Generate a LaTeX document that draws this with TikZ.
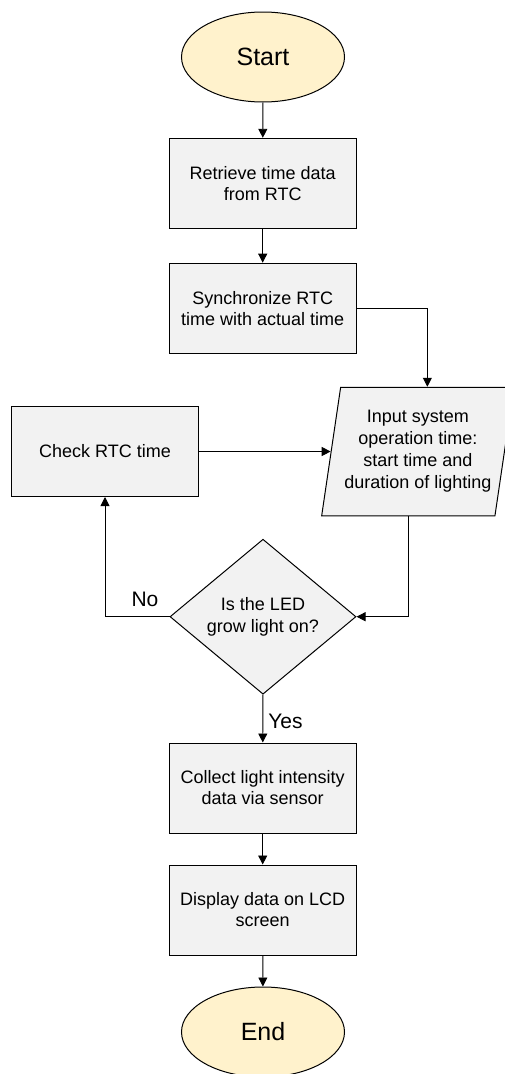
\documentclass[tikz,border=0pt]{standalone}
\usepackage{fontspec}
\setmainfont{Liberation Sans}
\usetikzlibrary{shapes.geometric,arrows.meta}
\definecolor{boxgray}{HTML}{F2F2F2}
\definecolor{termyellow}{HTML}{FFF2CC}

\begin{document}
\begin{tikzpicture}[x=1pt,y=-1pt,>={Triangle[length=9pt,width=9pt]},
  proc/.style={draw,fill=boxgray,line width=1pt,minimum width=187pt,minimum height=90pt,
    inner sep=0pt,align=center,font=\fontsize{18}{21}\selectfont},
  term/.style={ellipse,draw,fill=termyellow,line width=1pt,minimum width=163pt,
    minimum height=90pt,inner sep=0pt,font=\fontsize{25}{30}\selectfont},
  io/.style={trapezium,trapezium left angle=81.6,trapezium right angle=98.4,
    draw,fill=boxgray,line width=1pt,inner xsep=3.6pt,inner ysep=20.25pt,
    font=\fontsize{18}{22}\selectfont},
  decide/.style={diamond,aspect=1.2,draw,fill=boxgray,line width=1pt,minimum width=186pt,
    minimum height=155pt,inner sep=0pt,align=center,font=\fontsize{18}{21.5}\selectfont},
  lbl/.style={font=\fontsize{21}{24}\selectfont},
  conn/.style={->,line width=0.9pt}]
\useasboundingbox (0,0) rectangle (504,1074);

% terminals and steps
\node[term] (start) at (263,57) {Start};
\node[proc] (rtc) at (262.7,183.3) {Retrieve time data\\from RTC};
\node[proc] (sync) at (262.7,308.2) {Synchronize RTC\\time with actual time};
\node[io] (inp) at (417.8,451.5) {\begin{tabular}{@{}c@{}}Input system\\operation time:\\start time and\\duration of lighting\end{tabular}};
\node[proc] (chk) at (105,451.5) {Check RTC time};
\node[decide] (dec) at (263,616.7) {Is the LED\\grow light on?};
\node[proc] (coll) at (262.7,788) {Collect light intensity\\data via sensor};
\node[proc] (disp) at (262.7,910) {Display data on LCD\\screen};
\node[term] (end) at (263,1032) {End};

% connectors
\draw[conn] (start) -- (rtc);
\draw[conn] (rtc) -- (sync);
\draw[conn] (sync.east) -| (inp.top side);
\draw[conn] (chk) -- (inp);
\draw[conn] (inp.bottom side) |- (dec.east);
\draw[conn] (dec.west) -| node[lbl,pos=0.19,above,inner sep=9.7pt] {No} (chk.south);
\draw[conn] (dec) -- node[lbl,right,inner sep=5pt,yshift=-3pt] {Yes} (coll);
\draw[conn] (coll) -- (disp);
\draw[conn] (disp) -- (end);
\end{tikzpicture}
\end{document}
